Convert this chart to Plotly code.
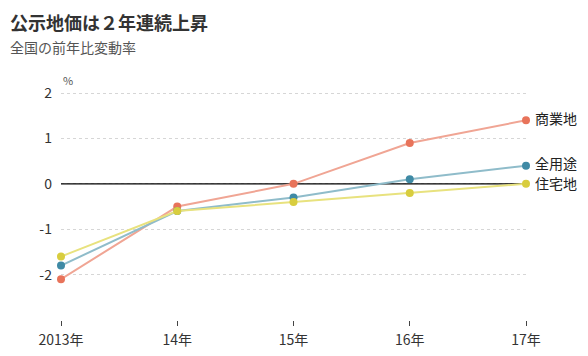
import plotly.graph_objects as go

years = [2013, 2014, 2015, 2016, 2017]
tick_labels = ["2013年", "14年", "15年", "16年", "17年"]
y_ticks = [-2, -1, 0, 1, 2]
y_tick_labels = ["-2", "-1", "0", "1", "2"]
commercial = [-2.1, -0.5, 0.0, 0.9, 1.4]
all_use = [-1.8, -0.6, -0.3, 0.1, 0.4]
residential = [-1.6, -0.6, -0.4, -0.2, 0.0]

series = [
    ("商業地", commercial, "#f0a594", "#e8735a", 2),
    ("全用途", all_use, "#8fbcca", "#3f8aa5", 3),
    ("住宅地", residential, "#e8e27e", "#d8cd3e", 1),
]

FONT = "Noto Sans CJK JP, Meiryo, sans-serif"
fig = go.Figure()

# zero line
fig.add_trace(go.Scatter(x=[years[0], years[-1]], y=[0, 0], mode="lines",
                         line=dict(color="#000000", width=1.2), hoverinfo="skip",
                         showlegend=False))

for name, vals, lc, mc, ys in series:
    fig.add_trace(go.Scatter(x=years, y=vals, mode="lines+markers", name=name,
                             line=dict(color=lc, width=2),
                             marker=dict(color=mc, size=8),
                             cliponaxis=False, showlegend=False))
    fig.add_annotation(x=years[-1], y=vals[-1], text=name, showarrow=False,
                       xanchor="left", yanchor="middle", xshift=7, yshift=ys,
                       font=dict(size=14, color="#222222", family=FONT))

PW = 465.0
fig.add_annotation(xref="paper", yref="paper", x=-53 / PW, y=1.0, text="<b>公示地価は２年連続上昇</b>",
                   showarrow=False, xanchor="left", yanchor="middle", yshift=62,
                   font=dict(size=18, color="#333333", family=FONT))
fig.add_annotation(xref="paper", yref="paper", x=-53 / PW, y=1.0, text="全国の前年比変動率",
                   showarrow=False, xanchor="left", yanchor="middle", yshift=37,
                   font=dict(size=14, color="#555555", family=FONT))
fig.add_annotation(xref="paper", yref="paper", x=0.0, y=1.0, text="%",
                   showarrow=False, xanchor="left", yanchor="middle", yshift=4, xshift=0,
                   font=dict(size=11, color="#555555", family=FONT))

fig.update_layout(
    width=580, height=348,
    margin=dict(l=53, r=62, t=76, b=36),
    paper_bgcolor="white", plot_bgcolor="white",
    font=dict(family=FONT, size=13, color="#333333"),
    xaxis=dict(range=[2013, 2017], tickvals=years, ticktext=tick_labels,
               showgrid=False, zeroline=False, showline=False, automargin=False,
               ticks="outside", ticklen=5, tickcolor="#444444", tickwidth=1,
               ticklabelstandoff=2,
               tickfont=dict(size=14, color="#333333")),
    yaxis=dict(range=[-3, 2.2], tickvals=y_ticks, ticktext=y_tick_labels,
               showgrid=True, gridcolor="#d6d6d6", griddash="dot", gridwidth=1,
               zeroline=False, showline=False, ticks="", automargin=False,
               ticklabelstandoff=8,
               tickfont=dict(size=14, color="#333333")),
)

fig.write_html("out.html")
